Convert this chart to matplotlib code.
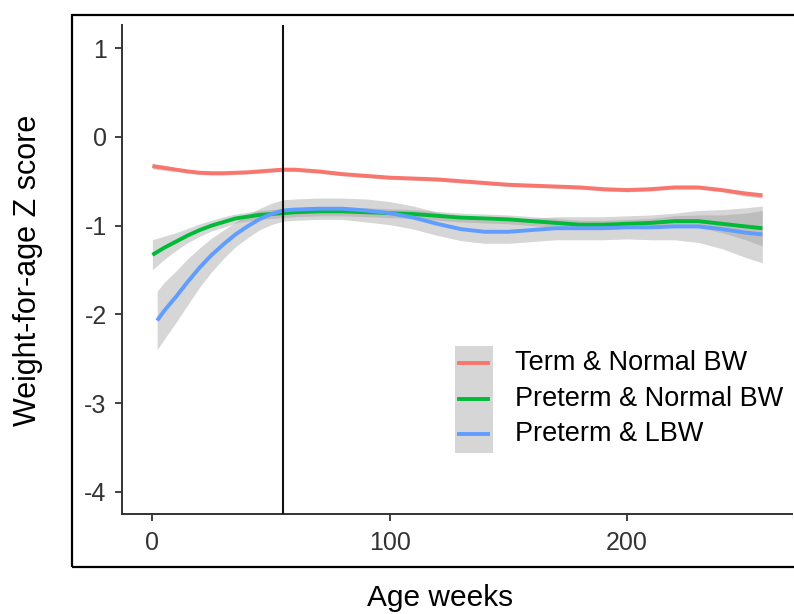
import matplotlib
matplotlib.use("Agg")
import matplotlib.pyplot as plt
from matplotlib.patches import Rectangle
import numpy as np

plt.rcParams['font.family'] = ['Liberation Sans', 'DejaVu Sans']

# ---- data ----
weeks = [0, 5, 10, 15, 20, 25, 30, 35, 40, 45, 50, 55, 60, 70, 80, 90, 100,
         110, 120, 130, 140, 150, 160, 170, 180, 190, 200, 210, 220, 230,
         240, 250, 257]
weeks_lbw = [2] + weeks[1:]

term_normal = [-0.33, -0.35, -0.37, -0.39, -0.405, -0.41, -0.41, -0.405, -0.40,
               -0.39, -0.38, -0.37, -0.37, -0.39, -0.42, -0.44, -0.46, -0.47,
               -0.48, -0.50, -0.52, -0.54, -0.55, -0.56, -0.57, -0.59, -0.60,
               -0.59, -0.57, -0.57, -0.60, -0.64, -0.66]
term_normal_se = [0.03, 0.03, 0.02, 0.02, 0.02, 0.02, 0.02, 0.02, 0.02, 0.02,
                  0.02, 0.02, 0.02, 0.02, 0.02, 0.02, 0.02, 0.02, 0.02, 0.02,
                  0.02, 0.02, 0.02, 0.02, 0.02, 0.02, 0.02, 0.02, 0.02, 0.02,
                  0.02, 0.03, 0.03]

preterm_normal = [-1.33, -1.25, -1.18, -1.11, -1.05, -1.00, -0.96, -0.92,
                  -0.90, -0.88, -0.87, -0.86, -0.85, -0.84, -0.84, -0.85,
                  -0.86, -0.87, -0.89, -0.91, -0.92, -0.93, -0.95, -0.97,
                  -0.99, -0.99, -0.98, -0.97, -0.95, -0.95, -0.98, -1.01, -1.03]
preterm_normal_se = [0.17, 0.13, 0.10, 0.08, 0.07, 0.06, 0.06, 0.05, 0.05,
                     0.05, 0.05, 0.05, 0.05, 0.05, 0.05, 0.05, 0.05, 0.05,
                     0.05, 0.05, 0.05, 0.05, 0.05, 0.05, 0.05, 0.05, 0.05,
                     0.05, 0.06, 0.07, 0.10, 0.15, 0.20]

preterm_lbw = [-2.07, -1.96, -1.80, -1.63, -1.47, -1.33, -1.21, -1.10, -1.01,
               -0.93, -0.87, -0.83, -0.82, -0.81, -0.81, -0.83, -0.86, -0.91,
               -0.98, -1.04, -1.07, -1.07, -1.05, -1.03, -1.03, -1.03, -1.02,
               -1.02, -1.01, -1.01, -1.04, -1.08, -1.10]
preterm_lbw_se = [0.33, 0.32, 0.29, 0.26, 0.22, 0.19, 0.16, 0.14, 0.13, 0.12,
                  0.12, 0.12, 0.12, 0.12, 0.12, 0.13, 0.13, 0.13, 0.13, 0.13,
                  0.13, 0.13, 0.13, 0.13, 0.13, 0.13, 0.13, 0.14, 0.15, 0.18,
                  0.22, 0.28, 0.32]

cutoff_week = 55
labels = ["Term & Normal BW", "Preterm & Normal BW", "Preterm & LBW"]
colors = ["#F8766D", "#00BA38", "#619CFF"]
xticks = [0, 100, 200]
yticks = [-4, -3, -2, -1, 0, 1]

# ---- figure ----
W, H = 794, 614
fig = plt.figure(figsize=(W / 100, H / 100), dpi=100)

def fx(px):
    return px / W

def fy(py):
    return 1 - py / H

ax = fig.add_axes([fx(122), fy(514), fx(792) - fx(122), fy(25) - fy(514)])

series = [(weeks, term_normal, term_normal_se),
          (weeks, preterm_normal, preterm_normal_se),
          (weeks_lbw, preterm_lbw, preterm_lbw_se)]

for (x, y, se), c, lab in zip(series, colors, labels):
    x = np.array(x); y = np.array(y); se = np.array(se)
    ax.fill_between(x, y - se, y + se, color="#999999", alpha=0.4,
                    linewidth=0, zorder=1)
for (x, y, se), c, lab in zip(series, colors, labels):
    ax.plot(x, y, color=c, lw=2.8, zorder=3, solid_capstyle='butt',
            solid_joinstyle='round')

ax.axvline(cutoff_week, color="#111111", lw=1.5, zorder=4)

ax.set_xlim(-12.8, 269.5)
ax.set_ylim(-4.25, 1.26)
ax.set_xticks(xticks)
ax.set_yticks(yticks)
ax.set_xticklabels([str(t) for t in xticks])
ax.set_yticklabels([str(t) for t in yticks])
for s in ["top", "right"]:
    ax.spines[s].set_visible(False)
for s in ["left", "bottom"]:
    ax.spines[s].set_color("#333333")
    ax.spines[s].set_linewidth(1.4)
ax.tick_params(axis="both", length=5, width=1.3, color="#333333",
               labelcolor="#333333", labelsize=18)
ax.tick_params(axis="y", pad=6)
ax.tick_params(axis="x", pad=7)

# axis titles
fig.text(fx(440), fy(598), "Age weeks", ha="center", va="center",
         fontsize=21.5, color="black")
fig.text(fx(28), fy(270), "Weight-for-age Z score", ha="center",
         va="center", rotation=90, fontsize=22, color="black")

# outer frame
fig.patches.append(Rectangle((fx(72), fy(567)), 1.0, fy(15) - fy(567),
                             transform=fig.transFigure, fill=False,
                             edgecolor="black", lw=1.6, clip_on=False))

# legend (ggplot style: grey key background with coloured line)
fig.patches.append(Rectangle((fx(455), fy(453)), fx(493) - fx(455),
                             fy(346) - fy(453), transform=fig.transFigure,
                             facecolor="#D6D6D6", edgecolor="none"))
rows = [363, 399, 434]
for lab, c, r in zip(labels, colors, rows):
    fig.add_artist(plt.Line2D([fx(459), fx(488)], [fy(r), fy(r)],
                              transform=fig.transFigure, color=c, lw=2.8))
    fig.text(fx(515), fy(r), lab, ha="left", va="center", fontsize=19.5,
             color="black")

fig.savefig("out.png", dpi=100)
